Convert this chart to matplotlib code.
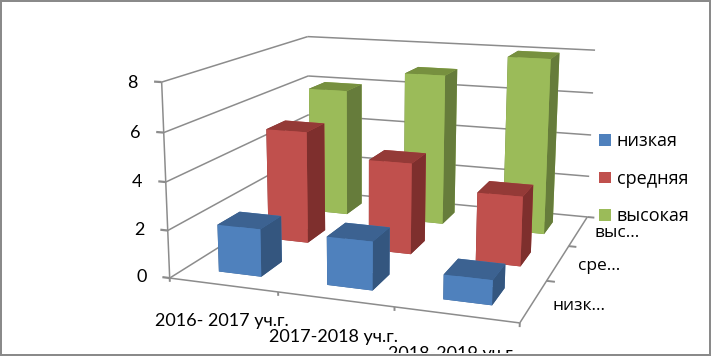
import numpy as np
import matplotlib
matplotlib.use("Agg")
import matplotlib.pyplot as plt
from matplotlib.patches import Patch, Rectangle
from mpl_toolkits.mplot3d import proj3d
from mpl_toolkits.mplot3d.art3d import Line3DCollection

categories = ["2016- 2017 уч.г.", "2017-2018 уч.г.", "2018-2019 уч.г."]
series = ["низкая", "средняя", "высокая"]
depth_labels = ["низк...", "сре...", "выс..."]
low = [2, 2, 1]
mid = [5, 4, 3]
high = [6, 7, 8]
zticks = [0, 2, 4, 6, 8]
values = [low, mid, high]
face = ["#4F81BD", "#C0504D", "#9BBB59"]
top = ["#3C6291", "#943A37", "#77903F"]
side = ["#34567F", "#7E2F2D", "#667C3B"]
GRID = "#8C8C8C"
W, H = 711, 356

fig = plt.figure(figsize=(W / 100, H / 100), dpi=100, facecolor="white")
ax = fig.add_axes([0, 0.5 - W / H / 2, 1, W / H], projection="3d", computed_zorder=False)
ax.set_axis_off()
ax.patch.set_visible(False)
ax.apply_aspect()

# camera calibration: axis-box points -> pixel position in the image
calib = [
    ((0, 0, 0), (170, 277)), ((3, 0, 0), (519, 323)), ((3, 3, 0), (586, 217)),
    ((0, 3, 0), (309, 192)), ((0, 0, 8), (161, 83)), ((0, 3, 8), (308, 36)),
    ((3, 3, 8), (595, 51)), ((1, 0, 0), (278, 292)), ((2, 0, 0), (394, 307)),
    ((3, 1, 0), (548, 281)), ((3, 2, 0), (570, 246)), ((0, 0, 4), (166, 182)),
    ((3, 3, 4), (591, 134)), ((0, 3, 4), (309, 114)),
]
inv = ax.transData.inverted()
A, b = [], []
for (x, y, z), (px, py) in calib:
    u, v = inv.transform((px, H - py))
    A.append([x, y, z, 1, 0, 0, 0, 0, -u * x, -u * y, -u * z]); b.append(u)
    A.append([0, 0, 0, 0, x, y, z, 1, -v * x, -v * y, -v * z]); b.append(v)
h = np.linalg.lstsq(np.array(A, float), np.array(b, float), rcond=None)[0]
M = np.array([h[:4], h[4:8], [-0.3, 1, -0.05, 2], [h[8], h[9], h[10], 1.0]])
ax.get_proj = lambda: M


def seg(p, q, lw=1.1):
    ax.add_collection3d(Line3DCollection([[p, q]], colors=GRID, linewidths=lw, zorder=1))


def label(x, y, z, s, **kw):
    u, v, _ = proj3d.proj_transform(x, y, z, M)
    fig.text(float(u), float(v), s, transform=ax.transData, ha="center", va="center", color="black", **kw)


nx, ny = len(categories), len(series)
for z in zticks:
    seg((0, 0, z), (0, ny, z))
    if z > 0:
        seg((0, ny, z), (nx, ny, z))
    seg((-0.07, 0, z), (0, 0, z), lw=1.6)
seg((0, ny, 0), (nx, ny, 0))
seg((0, 0, 0), (0, 0, max(zticks)))
seg((0, 0, 0), (nx, 0, 0))
seg((nx, 0, 0), (nx, ny, 0))
for i in range(nx + 1):
    seg((i, 0, 0), (i, 0, -0.16), lw=1.4)
for j in range(1, ny + 1):
    seg((nx, j, 0), (nx + 0.07, j, 0), lw=1.4)

bar_w, bar_d = 0.40, 0.42
for j in reversed(range(ny)):
    for i in range(nx):
        cols = [top[j], top[j], face[j], face[j], side[j], side[j]]
        ax.bar3d(i + 0.5 - bar_w / 2 + 0.012, j + 0.5 - bar_d / 2, 0, bar_w, bar_d, values[j][i],
                 color=cols, shade=False, linewidth=0, zorder=10 + (ny - j) * 10)

tf = dict(family=["Lato", "Open Sans"], fontsize=13)
for z in zticks:
    label(-0.27, 0, z - 0.1, str(z), **tf)
for i, c in enumerate(categories):
    label(i + 0.48, 0, -1.55, c, **tf)
for j, d in enumerate(depth_labels):
    label(nx + 0.385, j + 0.32, 0.33, d, family="Open Sans", fontsize=12.5)

handles = [Patch(facecolor=c, edgecolor="none") for c in face]
fig.legend(handles, series, loc="upper left", bbox_to_anchor=(598.5 / W, 1 - 132.5 / H),
           frameon=False, prop={"family": "Open Sans", "size": 13}, handlelength=0.67,
           handleheight=0.62, handletextpad=0.33, labelspacing=1.08, borderpad=0, borderaxespad=0)

for rect in [(0, 0, 1, 2 / H), (0, 1 - 2 / H, 1, 2 / H), (0, 0, 2 / W, 1), (1 - 2 / W, 0, 2 / W, 1)]:
    fig.add_artist(Rectangle(rect[:2], rect[2], rect[3], transform=fig.transFigure,
                             facecolor="#8A8A8A", edgecolor="none", zorder=50))
fig.add_artist(Rectangle((0, 2 / H), 1, 1.5 / H, transform=fig.transFigure, facecolor="white",
                         edgecolor="none", zorder=49))
fig.savefig("out.png", dpi=100, facecolor="white")
